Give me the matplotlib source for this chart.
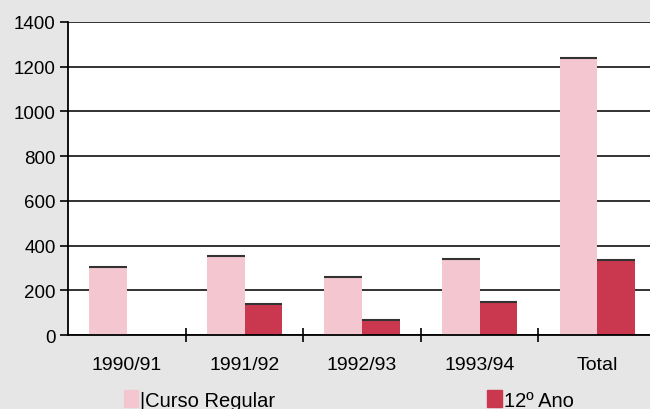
import numpy as np
import matplotlib.pyplot as plt
from matplotlib.patches import Patch

plt.rcParams['font.family'] = ['Liberation Sans', 'DejaVu Sans']

categories = ['1990/91', '1991/92', '1992/93', '1993/94', 'Total']
curso_regular = [305, 355, 260, 340, 1240]
ano_12 = [0, 140, 70, 150, 335]
y_ticks = [0, 200, 400, 600, 800, 1000, 1200, 1400]

light = '#f3c6d0'
dark = '#c9384e'

fig = plt.figure(figsize=(6.5, 4.1), dpi=100)
fig.patch.set_facecolor('#e6e6e6')
ax = fig.add_axes([0.105, 0.18, 0.895, 0.764])
ax.set_facecolor('white')

x = np.arange(len(categories))
w = 0.32
ax.bar(x - w / 2, curso_regular, w, color=light, zorder=2)
ax.bar(x + w / 2, ano_12, w, color=dark, zorder=2)
# dark line on bar tops, like the scan
ax.hlines(curso_regular, x - w, x, color='#333333', lw=1.5, zorder=3)
nz = [i for i in x if ano_12[i] > 0]
ax.hlines([ano_12[i] for i in nz], [i for i in nz], [i + w for i in nz],
          color='#333333', lw=1.5, zorder=3)

ax.set_xlim(-0.5, 4.45)
ax.set_ylim(0, 1400)
ax.set_yticks(y_ticks)
ax.yaxis.grid(True, color='#222222', lw=1.3, zorder=1)
ax.tick_params(axis='y', labelsize=13.5, length=6, width=1.2, pad=3)

ax.set_xticks(x[:-1] + 0.5)
ax.set_xticklabels([])
ax.set_xticks(x, minor=True)
ax.set_xticklabels(categories, minor=True)
ax.tick_params(axis='x', which='major', direction='inout', length=10, width=1.2)
ax.tick_params(axis='x', which='minor', length=0, labelsize=14, pad=15)

for s in ['top', 'right']:
    ax.spines[s].set_visible(False)
ax.spines['left'].set_linewidth(1.3)
ax.spines['bottom'].set_linewidth(1.3)

fig.legend(handles=[Patch(color=light, label='|Curso Regular')], loc='center left',
           bbox_to_anchor=(0.163, 0.022), frameon=False, fontsize=14.5,
           handlelength=0.7, handleheight=0.9, handletextpad=0.1)
fig.legend(handles=[Patch(color=dark, label='12º Ano')], loc='center left',
           bbox_to_anchor=(0.722, 0.022), frameon=False, fontsize=14.5,
           handlelength=0.7, handleheight=0.9, handletextpad=0.1)

fig.savefig('out.png', dpi=100, facecolor=fig.get_facecolor())
